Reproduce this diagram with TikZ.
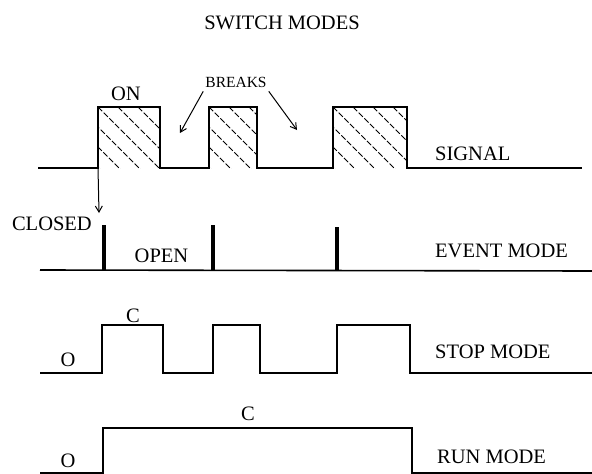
\documentclass[tikz,border=0pt]{standalone}
\usepackage{fontspec}
\setmainfont{Liberation Serif}
\usetikzlibrary{arrows.meta}

\begin{document}
\begin{tikzpicture}[x=1pt, y=-1pt,
    lbl/.style={font=\fontsize{20.5}{24}\selectfont, inner sep=0pt},
    wave/.style={line width=1.6pt},
    hatch/.style={line width=0.8pt, dash pattern=on 6pt off 2pt},
    spike/.style={line width=3.2pt},
    pointer/.style={line width=1pt, -{Straight Barb[length=6pt, width=7pt]}}]
    \useasboundingbox (0,0) rectangle (592,474);

    \node[lbl, anchor=base] (title) at (282,29) {SWITCH MODES};

    % SIGNAL: hatched pulses
    \foreach \a/\b in {98/160, 209/257, 333/407} {
        \begin{scope}
        \clip (\a,107) rectangle (\b,168);
        \foreach \s in {-60,-40,...,80}
            \draw[hatch] (\a+\s,107) -- ++(65,65);
        \end{scope}
    }
    \draw[wave] (38,168) -| (98,107) -| (160,168) -| (209,107) -| (257,168)
        -| (333,107) -| (407,168) -- (582,168);

    \node[lbl, anchor=base] (on) at (126,100) {ON};
    \node[lbl, font=\fontsize{15.5}{18}\selectfont, anchor=base] (breaks) at (236,87) {BREAKS};
    \coordinate (brk1) at (180,133);
    \coordinate (brk2) at (297,130);
    \draw[pointer] ([shift={(-2,4)}]breaks.south west) -- (brk1);
    \draw[pointer] ([shift={(2,4)}]breaks.south east) -- (brk2);
    \node[lbl, anchor=base west] (signal) at (435,160) {SIGNAL};

    % EVENT MODE
    \coordinate (rise) at (98,168);
    \coordinate (tip) at (99,213);
    \draw[pointer] (rise) -- (tip);
    \node[lbl, anchor=base east] (closed) at (92,230) {CLOSED};
    \draw[wave] (40,270) -- (592,271);
    \foreach \x/\t in {104/225, 213/225, 337/227}
        \draw[spike] (\x,270.5) -- (\x,\t);
    \node[lbl, anchor=base] (open) at (161.5,262) {OPEN};
    \node[lbl, anchor=base west] (event) at (435,257) {EVENT MODE};

    % STOP MODE
    \draw[wave] (40,373) -| (102,325) -| (163,373) -| (213,325) -| (260,373)
        -| (337,325) -| (410,373) -- (592,373);
    \node[lbl, anchor=base] (cstop) at (133,322) {C};
    \node[lbl, anchor=base] (ostop) at (68,366) {O};
    \node[lbl, anchor=base west] (stop) at (435,358) {STOP MODE};

    % RUN MODE
    \draw[wave] (40,473) -| (103,428) -| (412,473) -- (592,473);
    \node[lbl, anchor=base] (crun) at (248,420) {C};
    \node[lbl, anchor=base] (orun) at (68,467) {O};
    \node[lbl, anchor=base west] (run) at (437,463) {RUN MODE};

\end{tikzpicture}
\end{document}
